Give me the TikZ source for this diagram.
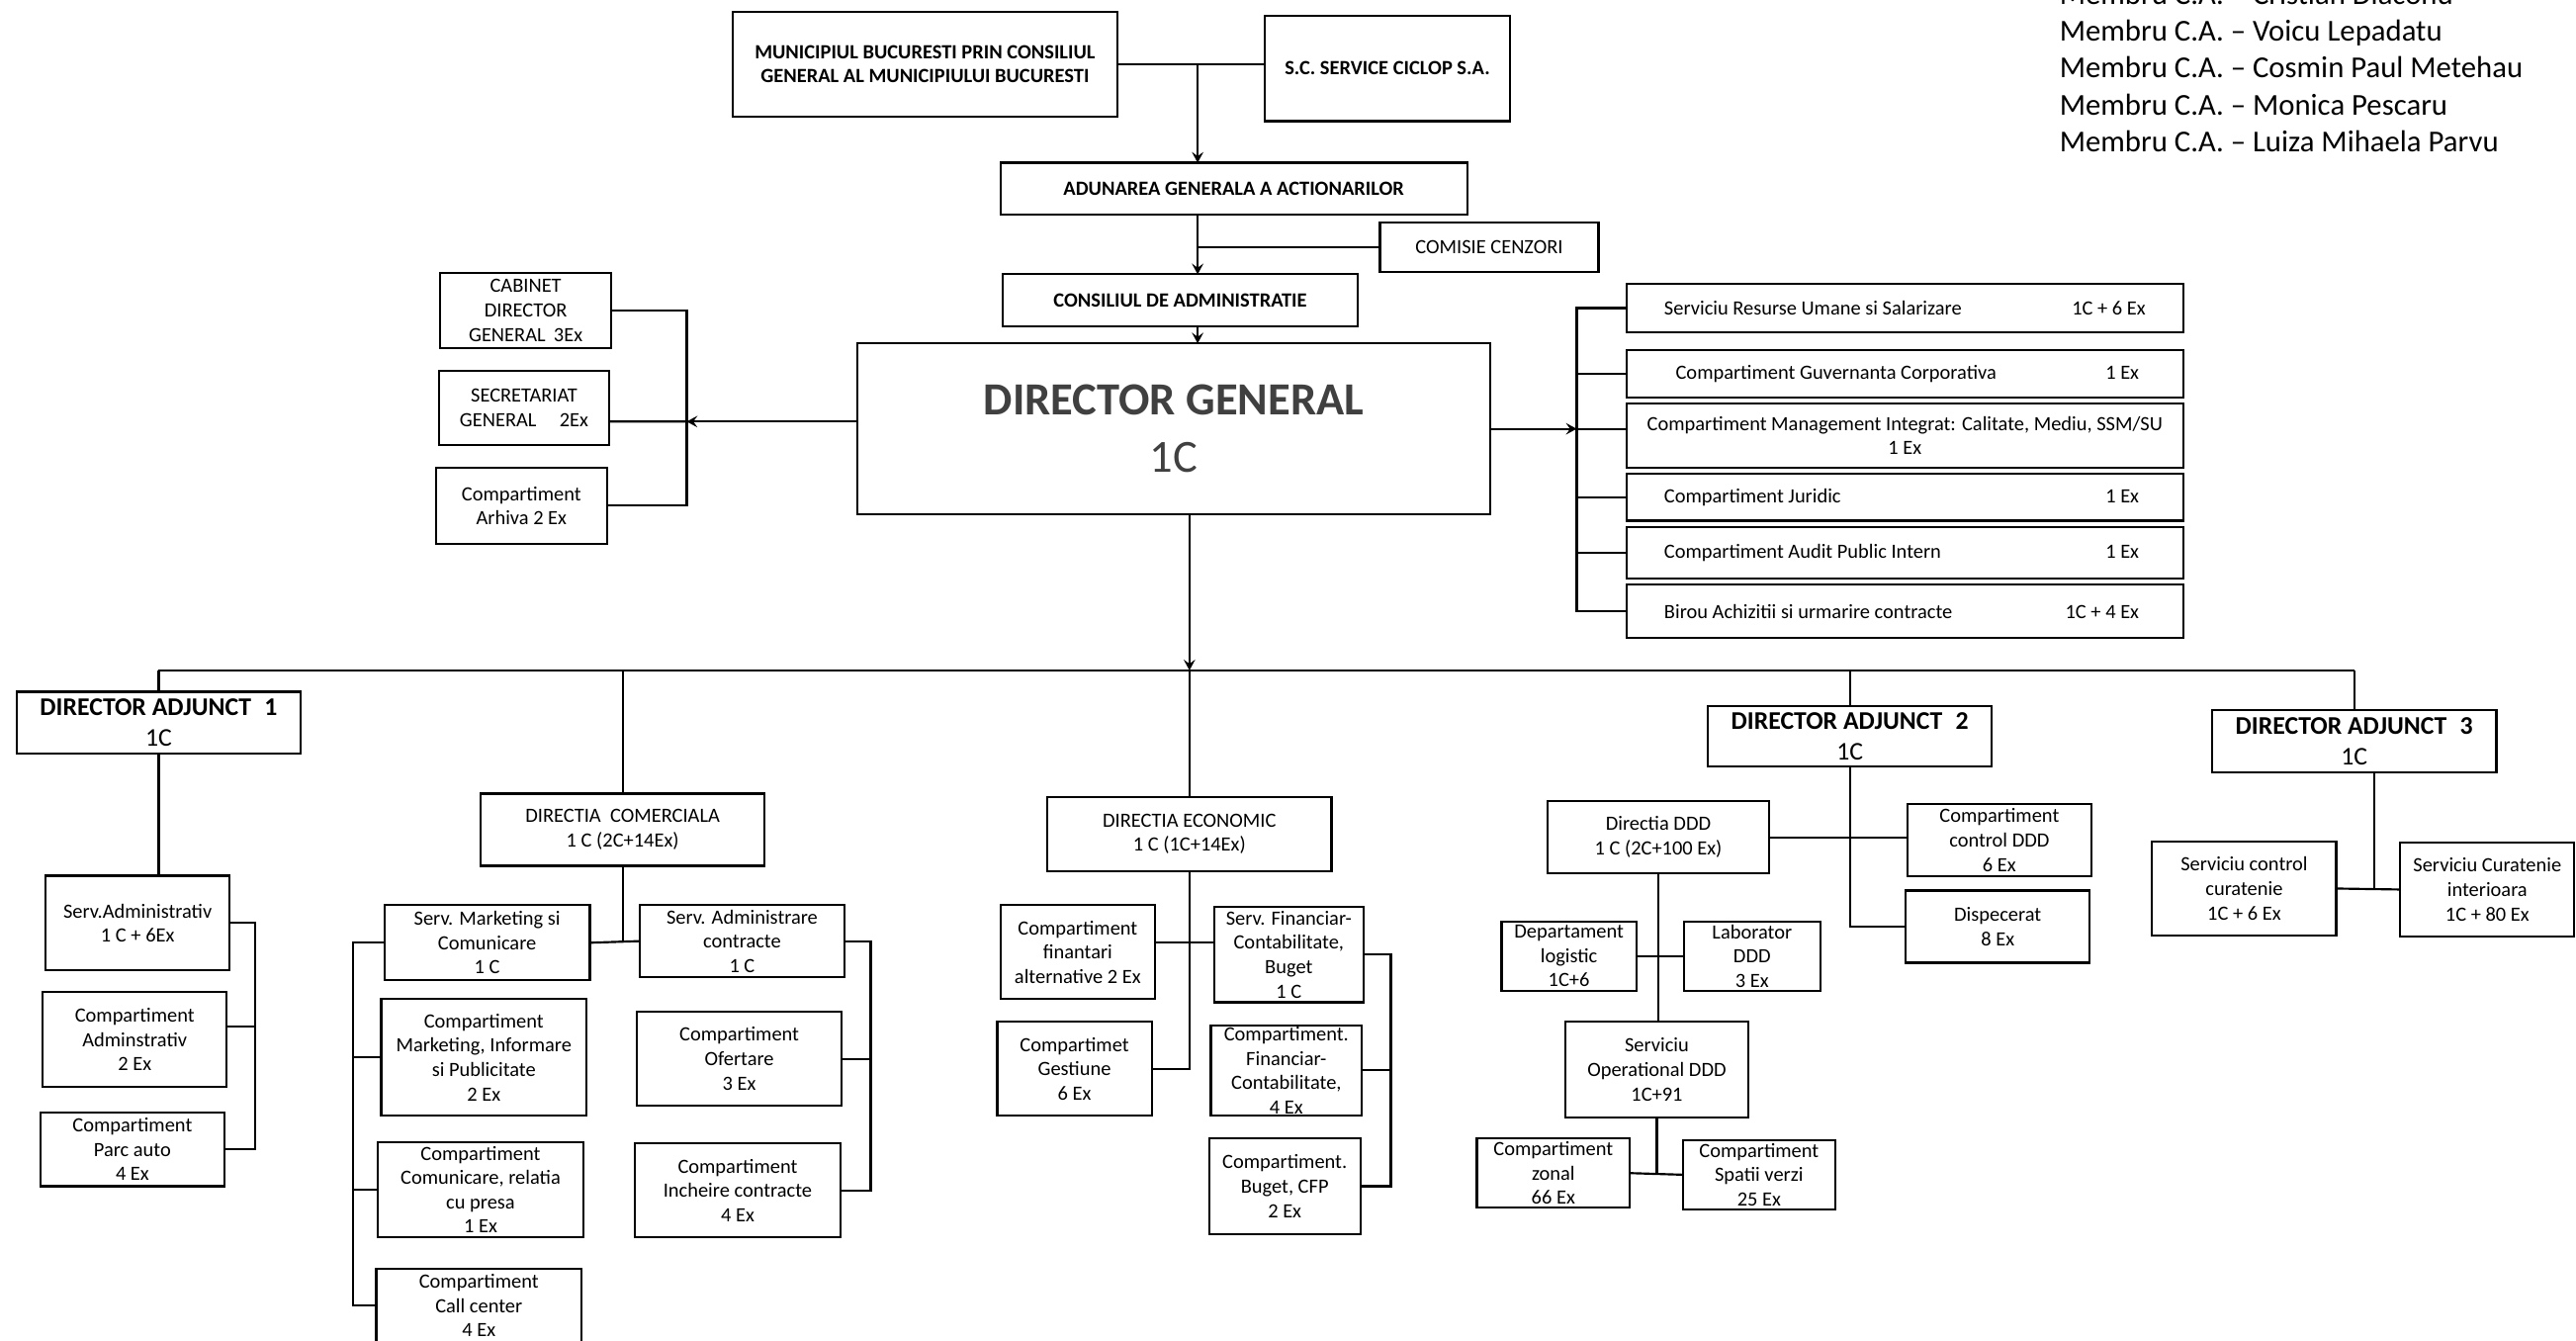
\documentclass[tikz,border=0pt]{standalone}
\usepackage{fontspec}
\setmainfont{Carlito}
\usepackage{tikz}
\usetikzlibrary{arrows.meta}

\newcommand{\rowtext}[2]{\makebox[293pt]{#1\hfill #2}}

\tikzset{
  unit/.style={draw, line width=1.3pt, align=center, inner sep=0pt, outer sep=0pt,
    font=\fontsize{12.3}{14.8}\selectfont},
  boldunit/.style={unit, font=\bfseries\fontsize{12.3}{14.8}\selectfont},
  deputy/.style={unit, font=\fontsize{15.5}{18.5}\selectfont},
  member/.style={anchor=base west, inner sep=0pt, font=\fontsize{18.5}{22.4}\selectfont},
}

\begin{document}
\begin{tikzpicture}[x=1pt, y=-1pt, line width=1.3pt, >={Stealth[length=6.5pt, width=7pt, inset=2.5pt]}]
\useasboundingbox (0,0) rectangle (1568,816.2);

\node[boldunit, minimum width=234, minimum height=64] (mun) at (563,39) {MUNICIPIUL BUCURESTI PRIN CONSILIUL\\GENERAL AL MUNICIPIULUI BUCURESTI};
\node[boldunit, minimum width=149, minimum height=64] (sca) at (844.5,41.7) {S.C. SERVICE CICLOP S.A.};
\node[boldunit, minimum width=284, minimum height=31.5] (aga) at (751,114.8) {ADUNAREA GENERALA A ACTIONARILOR};
\node[unit, minimum width=133, minimum height=30] (cenz) at (906.5,150.5) {COMISIE CENZORI};
\node[boldunit, minimum width=216, minimum height=31.7] (ca) at (718.4,182.8) {CONSILIUL DE ADMINISTRATIE};
\node[unit, minimum width=385, minimum height=104, text=black!75, font=\fontsize{28}{35}\selectfont] (dg) at (714.5,261) {{\bfseries DIRECTOR GENERAL}\\1C};

\coordinate (owners) at (729,39);
\draw (mun.east) -- (mun.east -| sca.west);
\draw[->] (owners) -- (owners |- aga.north);
\draw[->] (aga.south -| owners) -- (ca.north -| owners);
\draw (cenz.west) -- (cenz.west -| owners);
\draw[->] (ca.south -| owners) -- (dg.north -| owners);

\foreach \nm [count=\i from 0] in {Cristian Diaconu, Voicu Lepadatu, Cosmin Paul Metehau, Monica Pescaru, Luiza Mihaela Parvu}
  \node[member] (mem\i) at (1253,{2.7+22.4*\i}) {Membru C.A. -- \nm};

\node[unit, minimum width=104, minimum height=46] (cab) at (320,189) {CABINET\\DIRECTOR\\GENERAL\hspace{5pt}3Ex};
\node[unit, minimum width=104, minimum height=45] (sec) at (319,248.4) {SECRETARIAT\\GENERAL\hspace{14pt}2Ex};
\node[unit, minimum width=104, minimum height=46] (arh) at (317.4,307.8) {Compartiment\\Arhiva 2 Ex};

\coordinate (lbr) at (418,256.6);
\draw[->] (dg.west |- lbr) -- (lbr);
\draw (cab.east) -- (cab.east -| lbr) -- (arh.east -| lbr) -- (arh.east);
\draw ([yshift=-8.2pt]sec.east) -- (lbr);

\node[unit, minimum width=339, minimum height=29.5] (hr) at (1159.5,187.5) {\rowtext{Serviciu Resurse Umane si Salarizare}{1C + 6 Ex}};
\node[unit, minimum width=339, minimum height=28.8] (guv) at (1159.5,227.4) {\rowtext{\hspace{7pt}Compartiment Guvernanta Corporativa}{1 Ex\hspace{4pt}}};
\node[unit, minimum width=339, minimum height=39] (mgm) at (1159.5,265.1) {Compartiment Management Integrat: Calitate, Mediu, SSM/SU\\1 Ex};
\node[unit, minimum width=339, minimum height=28.5] (jur) at (1159.5,302.7) {\rowtext{Compartiment Juridic}{1 Ex\hspace{4pt}}};
\node[unit, minimum width=339, minimum height=31.5] (aud) at (1159.5,336.5) {\rowtext{Compartiment Audit Public Intern}{1 Ex\hspace{4pt}}};
\node[unit, minimum width=339, minimum height=32.7] (bir) at (1159.5,372) {\rowtext{Birou Achizitii si urmarire contracte}{1C + 4 Ex\hspace{4pt}}};

\coordinate (rbr) at (959.7,261);
\draw[->] (dg.east) -- (rbr);
\draw (hr.west) -- (hr.west -| rbr) -- (bir.west -| rbr) -- (bir.west);
\foreach \b in {guv,jur,aud} \draw (\b.west) -- (\b.west -| rbr);
\draw (mgm.west |- rbr) -- (rbr);

\coordinate (bus) at (724,408);
\node[deputy, minimum width=173, minimum height=37.6] (da1) at (96.6,439.8) {\textbf{DIRECTOR ADJUNCT\hspace{8pt}1}\\1C};
\node[unit, minimum width=173, minimum height=44] (dcom) at (379,505) {DIRECTIA\ \ COMERCIALA\\1 C (2C+14Ex)};
\node[unit, minimum width=173, minimum height=45.5] (dec) at (724,507.7) {DIRECTIA ECONOMIC\\1 C (1C+14Ex)};
\node[deputy, minimum width=173, minimum height=36.6] (da2) at (1126,448.3) {\textbf{DIRECTOR ADJUNCT\hspace{8pt}2}\\1C};
\node[deputy, minimum width=173, minimum height=38] (da3) at (1433,451) {\textbf{DIRECTOR ADJUNCT\hspace{8pt}3}\\1C};

\draw[->] (dg.south -| bus) -- (bus);
\draw (bus) -- (dec.north);
\draw (da1.north |- bus) -- (da3.north |- bus);
\foreach \d in {da1,dcom,da2,da3} \draw (\d.north |- bus) -- (\d.north);

\node[unit, minimum width=112, minimum height=57.6] (sadm) at (83.8,561.8) {Serv.Administrativ\\1 C + 6Ex};
\node[unit, minimum width=112, minimum height=57.7] (cadm) at (82,632.8) {Compartiment\\Adminstrativ\\2 Ex};
\node[unit, minimum width=112, minimum height=45] (cparc) at (80.6,699.5) {Compartiment\\Parc auto\\4 Ex};

\coordinate (br1) at (155.5,562);
\draw (da1.south) -- (da1.south |- sadm.north);
\draw (sadm.east) -- (sadm.east -| br1) -- (cparc.east -| br1) -- (cparc.east);
\draw ([yshift=8pt]cadm.east) coordinate (t1) -- (t1 -| br1);

\node[unit, minimum width=125, minimum height=45.6] (smk) at (296.5,573.8) {Serv. Marketing si\\Comunicare\\1 C};
\node[unit, minimum width=125, minimum height=43.6] (sac) at (451.7,572.8) {Serv. Administrare\\contracte\\1 C};
\node[unit, minimum width=125, minimum height=71] (cmip) at (294.5,643.5) {Compartiment\\Marketing, Informare\\si Publicitate\\2 Ex};
\node[unit, minimum width=125, minimum height=58] (ccrp) at (292.5,724) {Compartiment\\Comunicare, relatia\\cu presa\\1 Ex};
\node[unit, minimum width=125, minimum height=45] (ccall) at (291.5,794.5) {Compartiment\\Call center\\4 Ex};
\node[unit, minimum width=124.5, minimum height=57] (cof) at (450,644.4) {Compartiment\\Ofertare\\3 Ex};
\node[unit, minimum width=125, minimum height=57] (cinc) at (449,724.5) {Compartiment\\Incheire contracte\\4 Ex};

\coordinate (br2) at (215,572);
\coordinate (br3) at (530,572);
\draw (smk.east) -- (sac.west);
\draw (dcom.south) -- (dcom.south |- smk.east);
\draw (smk.west) -- (smk.west -| br2) -- (ccall.west -| br2) -- (ccall.west);
\foreach \b in {cmip,ccrp} \draw (\b.west) -- (\b.west -| br2);
\draw (sac.east) -- (sac.east -| br3) -- (cinc.east -| br3) -- (cinc.east);
\draw (cof.east) -- (cof.east -| br3);

\node[unit, minimum width=94, minimum height=57] (cfin) at (656,579.5) {Compartiment\\finantari\\alternative 2 Ex};
\node[unit, minimum width=94, minimum height=57] (cgest) at (654,650.5) {Compartimet\\Gestiune\\6 Ex};
\node[unit, minimum width=91, minimum height=58] (sfcb) at (784.5,581) {Serv. Financiar-\\Contabilitate,\\Buget\\1 C};
\node[unit, minimum width=92, minimum height=55] (cfc) at (783,651.5) {Compartiment.\\Financiar-\\Contabilitate,\\4 Ex};
\node[unit, minimum width=92, minimum height=58] (cbcfp) at (782,722) {Compartiment.\\Buget, CFP\\2 Ex};

\coordinate (br4) at (846.6,582);
\draw (dec.south) |- (cgest.east);
\draw ([yshift=6pt]cfin.east) coordinate (t2) -- (t2 -| sfcb.west);
\draw (sfcb.east) -- (sfcb.east -| br4) -- (cbcfp.east -| br4) -- (cbcfp.east);
\draw (cfc.east) -- (cfc.east -| br4);

\node[unit, minimum width=135.3, minimum height=44.2] (ddd) at (1009.4,509.6) {Directia DDD\\1 C (2C+100 Ex)};
\node[unit, minimum width=112, minimum height=43.5] (ctrl) at (1217,511.3) {Compartiment\\control DDD\\6 Ex};
\node[unit, minimum width=112, minimum height=44] (dispc) at (1216,564) {Dispecerat\\8 Ex};
\node[unit, minimum width=82, minimum height=42] (dlog) at (955,582) {Departament\\logistic\\1C+6};
\node[unit, minimum width=83, minimum height=42] (lab) at (1066.5,582) {Laborator\\DDD\\3 Ex};
\node[unit, minimum width=111, minimum height=58] (sop) at (1008.5,651) {Serviciu\\Operational DDD\\1C+91};
\node[unit, minimum width=93, minimum height=42] (czon) at (945.5,714) {Compartiment\\zonal\\66 Ex};
\node[unit, minimum width=92.5, minimum height=42] (cspv) at (1070.7,715) {Compartiment\\Spatii verzi\\25 Ex};

\draw (ddd.east) -- (ddd.east -| ctrl.west);
\draw (da2.south) |- (dispc.west);
\draw (ddd.south) -- (ddd.south |- sop.north);
\draw (dlog.east) -- (lab.west);
\draw (sop.south) -- (sop.south |- czon.east);
\draw (czon.east) -- (cspv.west);

\node[unit, minimum width=112, minimum height=57.6] (scc) at (1366,540.8) {Serviciu control\\curatenie\\1C + 6 Ex};
\node[unit, minimum width=106, minimum height=57] (sci) at (1514,541.4) {Serviciu Curatenie\\interioara\\1C + 80 Ex};

\draw (scc.east) -- (sci.west);
\path (scc.east) -- (sci.west) coordinate[pos=0.6] (j3);
\draw (j3 |- da3.south) -- (j3);
\end{tikzpicture}
\end{document}
